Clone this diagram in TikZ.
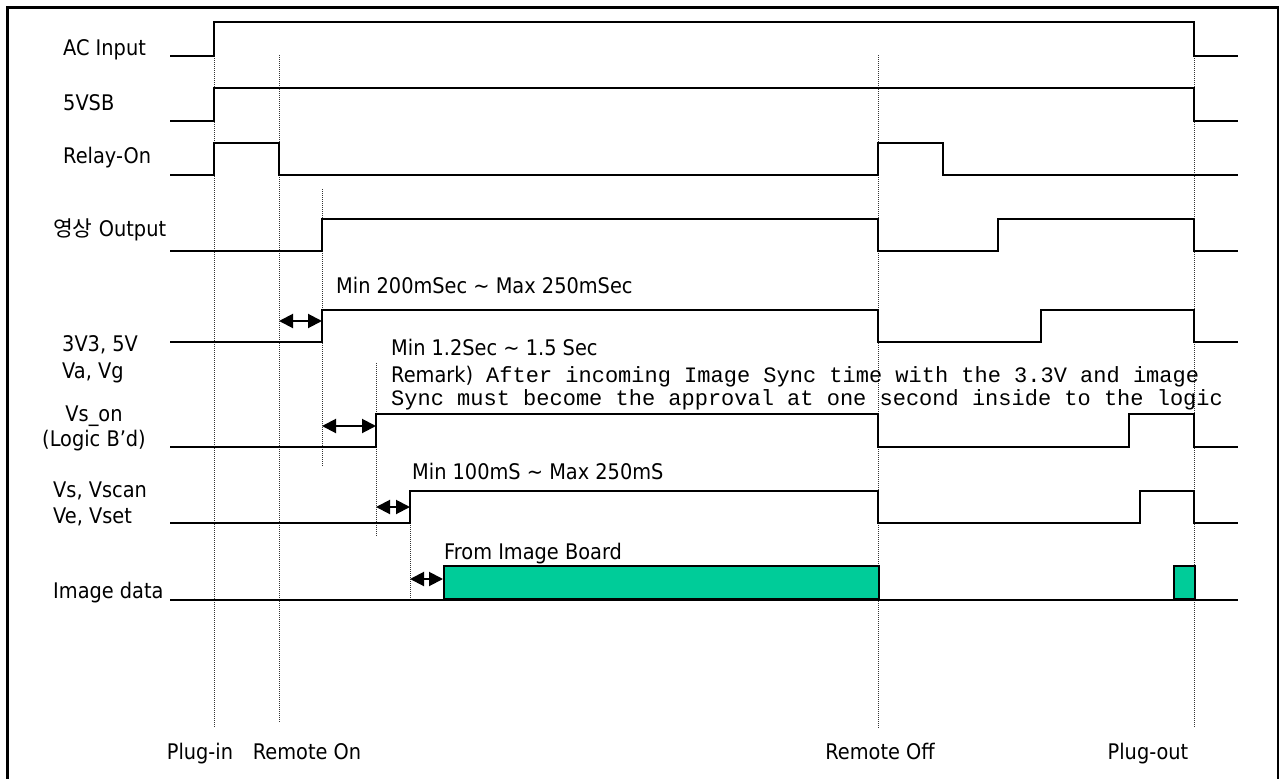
\documentclass[tikz,border=0pt]{standalone}
\usepackage{fontspec}
\setmainfont{DejaVu Sans}[FakeStretch=0.9]
\newfontfamily\krfont{Noto Sans CJK KR}
\newfontfamily\monofont{Liberation Mono}
\usetikzlibrary{arrows.meta}
\definecolor{imgfill}{HTML}{00CC99}
\tikzset{
  sig/.style={line width=2pt, line join=miter},
  guide/.style={line width=1pt, black!80, dash pattern=on 1pt off 1pt},
  dimarrow/.style={line width=2pt, {Triangle[length=14pt,width=14pt]}-{Triangle[length=14pt,width=14pt]}},
  lbl/.style={anchor=base west, inner sep=0pt, font=\fontsize{21.5}{25}\selectfont},
  clbl/.style={anchor=base, inner sep=0pt, font=\fontsize{21.5}{25}\selectfont},
  mlbl/.style={anchor=base west, inner sep=0pt, font=\fontsize{22}{25}\monofont},
  blockbox/.style={draw, line width=2pt, fill=imgfill}
}
\begin{document}
\begin{tikzpicture}[x=1pt,y=-1pt]
\useasboundingbox (0,0) rectangle (1286,779);
% frame
\draw[line width=2.6pt] (7.5,779) -- (7.5,7.5) -- (1278,7.5) -- (1278,779);

% guide lines
\coordinate (g1t) at (214,56);   \coordinate (g1b) at (214,728);
\coordinate (g2t) at (279,55);   \coordinate (g2b) at (279,723);
\coordinate (g3t) at (322,189);  \coordinate (g3b) at (322,467);
\coordinate (g4t) at (376,363);  \coordinate (g4b) at (376,536);
\coordinate (g5t) at (410,523);  \coordinate (g5b) at (410,600);
\coordinate (g6t) at (878,55);   \coordinate (g6b) at (878,728);
\coordinate (g7t) at (1194,56);  \coordinate (g7b) at (1194,728);
\foreach \g in {1,...,7} \draw[guide] (g\g t) -- (g\g b);

% waveforms
\draw[sig] (170,56) -- (214,56) -- (214,22) -- (1194,22) -- (1194,56) -- (1238,56);
\draw[sig] (170,121) -- (214,121) -- (214,88) -- (1194,88) -- (1194,121) -- (1238,121);
\draw[sig] (170,175) -- (214,175) -- (214,143) -- (279,143) -- (279,175) -- (878,175) -- (878,143) -- (943,143) -- (943,175) -- (1238,175);
\draw[sig] (170,251) -- (322,251) -- (322,219) -- (878,219) -- (878,251) -- (998,251) -- (998,219) -- (1194,219) -- (1194,251) -- (1238,251);
\draw[sig] (170,342) -- (322,342) -- (322,310) -- (878,310) -- (878,342) -- (1041,342) -- (1041,310) -- (1194,310) -- (1194,342) -- (1238,342);
\draw[sig] (170,447) -- (376,447) -- (376,414) -- (878,414) -- (878,447) -- (1129,447) -- (1129,414) -- (1194,414) -- (1194,447) -- (1238,447);
\draw[sig] (170,523) -- (410,523) -- (410,491) -- (878,491) -- (878,523) -- (1140,523) -- (1140,491) -- (1194,491) -- (1194,523) -- (1238,523);
\draw[sig] (170,600) -- (1238,600);
\node[blockbox, inner sep=0pt, minimum width=435pt, minimum height=33pt, anchor=south west] (blk1) at (443,600) {};
\node[blockbox, inner sep=0pt, minimum width=21pt, minimum height=33pt, anchor=south west] (blk2) at (1173,600) {};

% dimension arrows
\coordinate (a1l) at (279,321); \coordinate (a1r) at (322,321);
\coordinate (a2l) at (322,426); \coordinate (a2r) at (376,426);
\coordinate (a3l) at (376,507); \coordinate (a3r) at (410,507);
\coordinate (a4l) at (410,579); \coordinate (a4r) at (443,579);
\draw[dimarrow] (a1l) -- (a1r);
\draw[dimarrow] (a2l) -- (a2r);
\draw[dimarrow] (a3l) -- (a3r);
\draw[dimarrow] (a4l) -- (a4r);

% signal labels
\node[lbl] (lac) at (63,55) {AC Input};
\node[lbl] (lsb) at (63,110) {5VSB};
\node[lbl] (lrel) at (63,163) {Relay-On};
\node[lbl] (lout) at (53,236) {{\krfont 영상} Output};
\node[lbl] (l33) at (62,351) {3V3, 5V};
\node[lbl] (lva) at (62,378) {Va, Vg};
\node[clbl] (lvson) at (94,421) {Vs\_on};
\node[clbl] (llog) at (94,446) {(Logic B’d)};
\node[lbl] (lvs) at (53,497) {Vs, Vscan};
\node[lbl] (lve) at (53,523) {Ve, Vset};
\node[lbl] (limg) at (53,598) {Image data};

% timing notes
\node[lbl] (t1) at (336,293) {Min 200mSec \textasciitilde{} Max 250mSec};
\node[lbl] (t2) at (391,355) {Min 1.2Sec \textasciitilde{} 1.5 Sec};
\node[lbl] (t3) at (391,382) {Remark)};
\node[mlbl] (t4) at (486,382) {After incoming Image Sync time with the 3.3V and image};
\node[mlbl] (t5) at (391,405) {Sync must become the approval at one second inside to the logic};
\node[lbl] (t6) at (412,479) {Min 100mS \textasciitilde{} Max 250mS};
\node[lbl] (t7) at (444,559) {From Image Board};

% event labels
\node[clbl] (e1) at (200,759) {Plug-in};
\node[clbl] (e2) at (307,759) {Remote On};
\node[clbl] (e3) at (880,759) {Remote Off};
\node[clbl] (e4) at (1148,759) {Plug-out};
\end{tikzpicture}
\end{document}
